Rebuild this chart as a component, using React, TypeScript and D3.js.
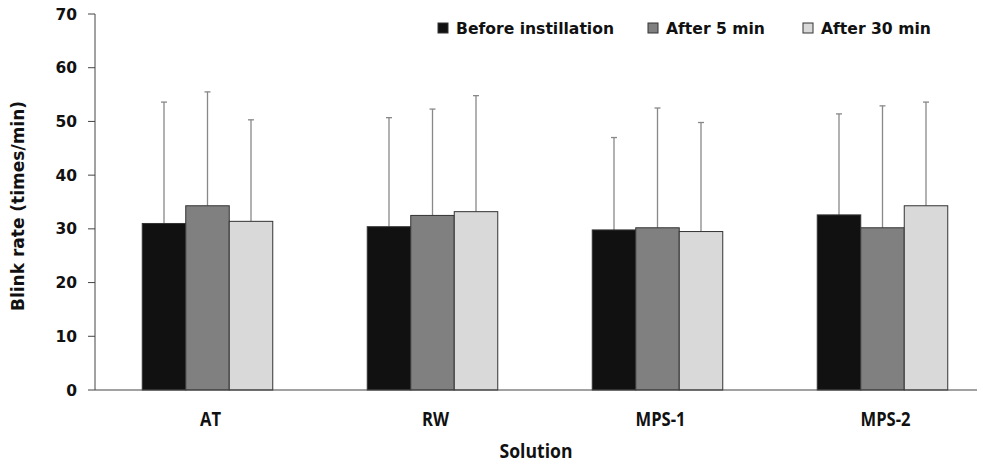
import React from "react";
import * as d3 from "d3";

const categories = ["AT", "RW", "MPS-1", "MPS-2"];
const seriesNames = ["Before instillation", "After 5 min", "After 30 min"];
const seriesColors = ["#111111", "#808080", "#d9d9d9"];
const beforeMean = [31.0, 30.4, 29.8, 32.6];
const after5Mean = [34.3, 32.5, 30.2, 30.2];
const after30Mean = [31.4, 33.2, 29.5, 34.3];
const beforeTop = [53.6, 50.7, 47.0, 51.4];
const after5Top = [55.5, 52.3, 52.5, 52.9];
const after30Top = [50.3, 54.8, 49.8, 53.6];
const yTicks = [0, 10, 20, 30, 40, 50, 60, 70];

const W = 983, H = 465;
const left = 95, right = 977, top = 14, bottom = 390;

export default function App() {
  const means = [beforeMean, after5Mean, after30Mean];
  const tops = [beforeTop, after5Top, after30Top];
  const y = d3.scaleLinear().domain([0, 70]).range([bottom, top]);
  const x0 = d3.scaleBand<string>().domain(categories).range([left, left + 900]).paddingInner(0.42).paddingOuter(0.21);
  const x1 = d3.scaleBand<string>().domain(seriesNames).range([0, x0.bandwidth()]);
  const boldFont = "'DejaVu Sans', Verdana, sans-serif";
  const narrowFont = "'Open Sans', sans-serif";
  const legendX = [438, 648, 803];
  return (
    <svg width={W} height={H} style={{ position: "absolute", left: 0, top: 0, background: "#fff" }}>
      {categories.map((c, ci) => (
        <g key={c}>
          {seriesNames.map((s, si) => {
            const bx = (x0(c) as number) + (x1(s) as number);
            const bw = x1.bandwidth();
            const yv = y(means[si][ci]);
            const ye = y(tops[si][ci]);
            const cx = bx + bw / 2;
            return (
              <g key={s}>
                <line x1={cx} x2={cx} y1={yv} y2={ye} stroke="#888" strokeWidth={1.3} />
                <line x1={cx - 3} x2={cx + 3} y1={ye} y2={ye} stroke="#888" strokeWidth={1.3} />
                <rect x={bx} y={yv} width={bw} height={bottom - yv} fill={seriesColors[si]} stroke="#333" strokeWidth={1} />
              </g>
            );
          })}
        </g>
      ))}
      <line x1={left} x2={left} y1={top} y2={bottom} stroke="#444" strokeWidth={1} />
      <line x1={left} x2={right} y1={bottom} y2={bottom} stroke="#444" strokeWidth={1} />
      {yTicks.map((t) => (
        <g key={t}>
          <line x1={88} x2={left} y1={y(t)} y2={y(t)} stroke="#444" strokeWidth={1} />
          <text x={77} y={y(t)} dy="0.36em" textAnchor="end" fontFamily={boldFont} fontWeight="bold" fontSize={15.5} fill="#111">{t}</text>
        </g>
      ))}
      <text transform={`translate(24,206) rotate(-90)`} textAnchor="middle" fontFamily={boldFont} fontWeight="bold" fontSize={17} fill="#111">Blink rate (times/min)</text>
      {categories.map((c) => {
        const cx = (x0(c) as number) + x0.bandwidth() / 2 + 3;
        return (
          <text key={c} transform={`translate(${cx},426) scale(0.85,1)`} textAnchor="middle" fontFamily={narrowFont} fontWeight="bold" fontSize={19.5} fill="#111">{c}</text>
        );
      })}
      <text transform="translate(536,458) scale(0.88,1)" textAnchor="middle" fontFamily={narrowFont} fontWeight="bold" fontSize={20} fill="#111">Solution</text>
      {seriesNames.map((s, si) => (
        <g key={s}>
          <rect x={legendX[si]} y={23} width={10} height={10} fill={seriesColors[si]} stroke="#333" strokeWidth={1} />
          <text x={legendX[si] + 18} y={28} dy="0.36em" fontFamily={boldFont} fontWeight="bold" fontSize={15.6} fill="#111">{s}</text>
        </g>
      ))}
    </svg>
  );
}
